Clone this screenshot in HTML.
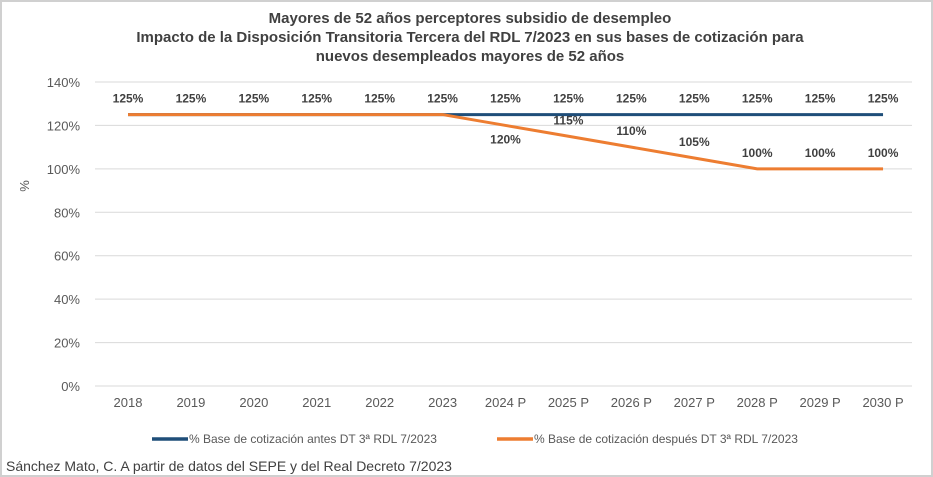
<!DOCTYPE html>
<html><head><meta charset="utf-8"><style>
body{margin:0;background:#fff;}
svg{display:block;font-family:"Liberation Sans",sans-serif;}
</style></head><body>
<svg width="933" height="477">
<rect x="1" y="1" width="931" height="475" fill="#fff" stroke="#d0d0d0" stroke-width="2"/>
<g font-weight="bold" font-size="15" fill="#404040" text-anchor="middle">
<text x="470" y="23">Mayores de 52 años perceptores subsidio de desempleo</text>
<text x="470" y="42">Impacto de la Disposición Transitoria Tercera del RDL 7/2023 en sus bases de cotización para</text>
<text x="470" y="61">nuevos desempleados mayores de 52 años</text>
</g>
<text x="0" y="0" transform="translate(29,186) rotate(-90)" font-size="13" fill="#595959" text-anchor="middle">%</text>
<g id="grid"></g><g id="series"></g><g id="labels"></g>
<g font-size="12" fill="#595959">
<line x1="152" y1="439" x2="188" y2="439" stroke="#1f4e79" stroke-width="3.5"/>
<text x="189" y="443">% Base de cotización antes DT 3ª RDL 7/2023</text>
<line x1="497" y1="439" x2="533" y2="439" stroke="#ed7d31" stroke-width="3.5"/>
<text x="534" y="443">% Base de cotización después DT 3ª RDL 7/2023</text>
</g>
<text x="6" y="471" font-size="14" fill="#404040">Sánchez Mato, C.  A partir de datos del SEPE y del Real Decreto 7/2023</text>
</svg>
<script>
const categories=["2018","2019","2020","2021","2022","2023","2024 P","2025 P","2026 P","2027 P","2028 P","2029 P","2030 P"];
const before=[125,125,125,125,125,125,125,125,125,125,125,125,125];
const after=[125,125,125,125,125,125,120,115,110,105,100,100,100];
const yTicks=[0,20,40,60,80,100,120,140];
const afterLabelBelow=[false,false,false,false,false,false,true,false,false,false,false,false,false];
const NS="http://www.w3.org/2000/svg";
const x0=128,dx=62.92,yBase=386,yTop=82;
const X=i=>x0+i*dx, Y=v=>yBase-(v/140)*(yBase-yTop);
function mk(t,a,p){const e=document.createElementNS(NS,t);for(const k in a)e.setAttribute(k,a[k]);p.appendChild(e);return e;}
const grid=document.getElementById('grid');
yTicks.forEach(v=>{
 const l=mk('line',{x1:95,x2:912,y1:Y(v),y2:Y(v),stroke:'#d9d9d9','stroke-width':1},grid);
 
 
 const t=mk('text',{x:80,y:Y(v)+5,'text-anchor':'end','font-size':13,fill:'#595959'},grid);
 t.textContent=v+'%';
 
 
});
categories.forEach((c,i)=>{
 const t=mk('text',{x:X(i),y:407,'text-anchor':'middle','font-size':13,fill:'#595959'},grid);
 t.textContent=c;
 
 
});
const s=document.getElementById('series');
const pb=mk('polyline',{points:before.map((v,i)=>X(i)+','+Y(v)).join(' '),fill:'none',stroke:'#1f4e79','stroke-width':3},s);


const pa=mk('polyline',{points:after.map((v,i)=>X(i)+','+Y(v)).join(' '),fill:'none',stroke:'#ed7d31','stroke-width':3},s);


const L=document.getElementById('labels');
before.forEach((v,i)=>{
 const t=mk('text',{x:X(i),y:Y(v)-12,'text-anchor':'middle','font-size':12,'font-weight':'bold',fill:'#404040'},L);
 t.textContent=v+'%';
 
 
});
after.forEach((v,i)=>{
 if(v===before[i])return;
 const y=afterLabelBelow[i]?Y(v)+18:Y(v)-12;
 const t=mk('text',{x:X(i),y:y,'text-anchor':'middle','font-size':12,'font-weight':'bold',fill:'#404040'},L);
 t.textContent=v+'%';
 
 
});
</script>
</body></html>
